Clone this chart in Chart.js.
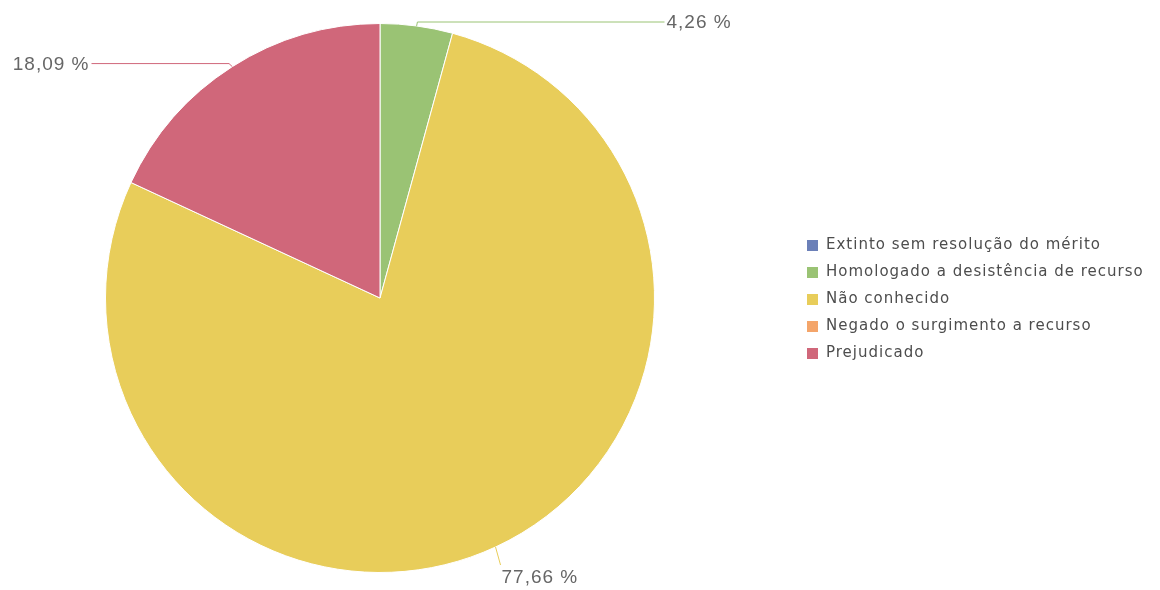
<!DOCTYPE html>
<html>
<head>
<meta charset="utf-8">
<script src="https://cdn.jsdelivr.net/npm/chart.js@4"></script>
<style>
  html, body { margin: 0; padding: 0; background: #fff; }
  #wrap { width: 1160px; height: 590px; position: relative; }
</style>
</head>
<body>
<div id="wrap"><canvas id="pie" width="1160" height="590"></canvas></div>
<script>
// ---- data ----
const categories = [
  "Extinto sem resolução do mérito",
  "Homologado a desistência de recurso",
  "Não conhecido",
  "Negado o surgimento a recurso",
  "Prejudicado"
];
const percents = [0, 4.26, 77.66, 0, 18.09];
const colors = ["#6b80b8", "#9ac374", "#e8cd5a", "#f4a56a", "#d0677a"];

// where each slice's label goes (style only)
const labelPlacement = ["right", "right", "below", "right", "left"];

const fmt = v => v.toFixed(2).replace(".", ",") + " %";

// labels with leader lines, highcharts style
const sliceLabels = {
  id: "sliceLabels",
  afterDatasetsDraw(chart) {
    const ctx = chart.ctx;
    const arcs = chart.getDatasetMeta(0).data;
    ctx.save();
    ctx.font = "19px 'Liberation Sans'";
    ctx.letterSpacing = "1px";
    ctx.fillStyle = "#666";
    ctx.lineWidth = 1;
    arcs.forEach((arc, i) => {
      if (!percents[i]) return;
      const { x: cx, y: cy, outerRadius: r, startAngle, endAngle } = arc;
      const a = (startAngle + endAngle) / 2;
      const px = cx + r * Math.cos(a), py = cy + r * Math.sin(a);
      ctx.strokeStyle = colors[i];
      ctx.beginPath();
      ctx.moveTo(px, py);
      if (labelPlacement[i] === "below") {
        const ex = px + 5, ey = py + 18;
        ctx.lineTo(ex, ey);
        ctx.stroke();
        ctx.textAlign = "left";
        ctx.textBaseline = "top";
        ctx.fillText(fmt(percents[i]), ex + 1, ey + 3);
      } else {
        const lx = cx + (r + 6) * Math.cos(a), ly = cy + (r + 6) * Math.sin(a) + 2;
        const right = labelPlacement[i] === "right";
        const colX = right ? cx + r + 10 : cx - r - 14;
        ctx.lineTo(lx, ly);
        ctx.lineTo(colX, ly);
        ctx.stroke();
        ctx.textAlign = right ? "left" : "right";
        ctx.textBaseline = "middle";
        ctx.fillText(fmt(percents[i]), right ? colX + 2 : colX - 2, ly + 1);
      }
    });
    ctx.restore();
  }
};

// legend drawn at the right side
const sideLegend = {
  id: "sideLegend",
  afterDraw(chart) {
    const ctx = chart.ctx;
    ctx.save();
    ctx.font = "15px 'DejaVu Sans'";
    ctx.letterSpacing = "1px";
    ctx.textBaseline = "middle";
    ctx.textAlign = "left";
    categories.forEach((c, i) => {
      const y = 245 + i * 27;
      ctx.fillStyle = colors[i];
      ctx.fillRect(807, y - 5, 11, 11);
      ctx.fillStyle = "#4d4d4d";
      ctx.fillText(c, 826, y);
    });
    ctx.restore();
  }
};

new Chart(document.getElementById("pie").getContext("2d"), {
  type: "pie",
  data: {
    labels: categories,
    datasets: [{
      data: percents,
      backgroundColor: colors,
      borderColor: "#fff",
      borderWidth: 1
    }]
  },
  options: {
    responsive: false,
    animation: false,
    layout: { padding: { left: 105, right: 505, top: 23, bottom: 17 } },
    plugins: {
      legend: { display: false },
      tooltip: { enabled: false }
    }
  },
  plugins: [sliceLabels, sideLegend]
});
</script>
</body>
</html>
